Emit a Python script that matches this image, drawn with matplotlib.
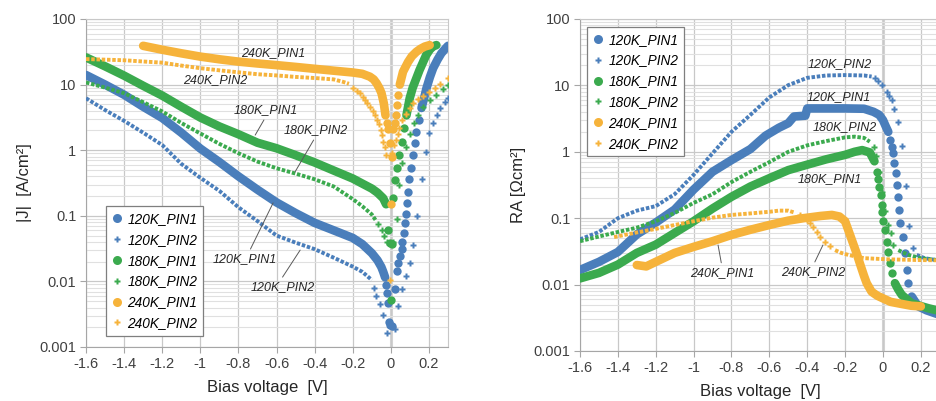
import matplotlib
matplotlib.use("Agg")
import matplotlib.pyplot as plt
from matplotlib.lines import Line2D

plt.rcParams["font.family"] = ["Liberation Sans", "DejaVu Sans"]

BLUE = "#4A7EBB"
GREEN = "#3BAA4E"
ORANGE = "#F6B33B"

# ---------------- |J| vs bias (left panel) ----------------
# each sweep: reverse band (dense points), sparse points around 0 V, forward band
j120_p1_rev = [(-1.6, 14), (-1.5, 10), (-1.4, 7.0), (-1.3, 4.6), (-1.2, 3.1), (-1.1, 1.85),
               (-1.0, 1.06), (-0.9, 0.66), (-0.8, 0.40), (-0.7, 0.25), (-0.6, 0.16),
               (-0.5, 0.11), (-0.4, 0.078), (-0.3, 0.06), (-0.2, 0.046), (-0.15, 0.037),
               (-0.1, 0.027), (-0.07, 0.021), (-0.05, 0.0166), (-0.04, 0.014), (-0.03, 0.0115)]
j120_p1_pts = [(-0.025, 0.0088), (-0.02, 0.0066), (-0.014, 0.0047), (-0.009, 0.0024),
               (-0.002, 0.0022), (0.004, 0.0021), (0.021, 0.0077), (0.03, 0.0145),
               (0.038, 0.019), (0.047, 0.0244), (0.056, 0.031), (0.061, 0.040),
               (0.068, 0.054), (0.075, 0.077), (0.082, 0.105), (0.087, 0.155), (0.09, 0.233),
               (0.096, 0.37), (0.108, 0.53), (0.117, 0.85), (0.126, 1.27), (0.134, 1.9),
               (0.148, 2.9)]
j120_p1_fwd = [(0.161, 4.4), (0.175, 6.3), (0.187, 8.8), (0.205, 13), (0.222, 17.8),
               (0.245, 24), (0.265, 30), (0.285, 35), (0.3, 39)]

j120_p2_rev = [(-1.6, 6.2), (-1.5, 4.1), (-1.4, 2.8), (-1.3, 1.85), (-1.2, 1.2), (-1.1, 0.62),
               (-1.0, 0.38), (-0.9, 0.24), (-0.8, 0.135), (-0.7, 0.083), (-0.6, 0.05),
               (-0.5, 0.039), (-0.4, 0.031), (-0.3, 0.023), (-0.2, 0.0168), (-0.15, 0.014),
               (-0.1, 0.0105)]
j120_p2_pts = [(-0.09, 0.008), (-0.08, 0.006), (-0.057, 0.0045), (-0.04, 0.0031),
               (-0.022, 0.00166), (0.021, 0.0019), (0.038, 0.0042), (0.056, 0.0076),
               (0.078, 0.012), (0.099, 0.019), (0.117, 0.036), (0.138, 0.099), (0.161, 0.37),
               (0.183, 0.95), (0.2, 1.8), (0.222, 2.6), (0.24, 3.4), (0.256, 4.4),
               (0.283, 5.4), (0.3, 6.3)]
j120_p2_fwd = []

j180_p1_rev = [(-1.6, 26), (-1.5, 19), (-1.4, 13.7), (-1.3, 9.6), (-1.2, 6.8), (-1.1, 4.6),
               (-1.0, 3.15), (-0.9, 2.3), (-0.8, 1.75), (-0.7, 1.3), (-0.6, 1.07), (-0.5, 0.84),
               (-0.4, 0.65), (-0.3, 0.49), (-0.2, 0.37), (-0.15, 0.31), (-0.1, 0.26),
               (-0.07, 0.225), (-0.04, 0.185), (-0.025, 0.15)]
j180_p1_pts = [(-0.017, 0.061), (-0.005, 0.039), (0.0, 0.0052), (0.004, 0.037), (0.012, 0.185),
               (0.021, 0.35), (0.03, 0.53), (0.044, 0.85), (0.056, 1.35), (0.068, 2.15)]
j180_p1_fwd = [(0.082, 3.4), (0.099, 6.2), (0.115, 9), (0.134, 12.5), (0.15, 16.5),
               (0.169, 22), (0.185, 28), (0.204, 34), (0.22, 38), (0.239, 40)]

j180_p2_rev = [(-1.6, 10.8), (-1.5, 9.0), (-1.4, 7.4), (-1.3, 5.4), (-1.2, 3.9), (-1.1, 2.6),
               (-1.0, 1.8), (-0.9, 1.25), (-0.8, 0.9), (-0.7, 0.67), (-0.6, 0.53), (-0.5, 0.44),
               (-0.4, 0.36), (-0.3, 0.28), (-0.2, 0.18), (-0.15, 0.14), (-0.1, 0.105),
               (-0.08, 0.086)]
j180_p2_pts = [(-0.065, 0.075), (-0.049, 0.061), (-0.035, 0.05), (-0.022, 0.04), (0.01, 0.04),
               (0.03, 0.09), (0.045, 0.3), (0.061, 0.63), (0.077, 1.13), (0.099, 1.75),
               (0.12, 2.6), (0.143, 3.4), (0.169, 4.6), (0.204, 5.8), (0.239, 6.9),
               (0.274, 8.6), (0.3, 9.9)]
j180_p2_fwd = []

j240_p1_rev = [(-1.3, 39), (-1.2, 34), (-1.1, 30), (-1.0, 26.7), (-0.9, 24.3), (-0.8, 22.4),
               (-0.7, 21), (-0.6, 19.8), (-0.5, 18.6), (-0.4, 17.4), (-0.3, 16.3), (-0.2, 15.3),
               (-0.15, 14.6), (-0.11, 13.2), (-0.09, 12), (-0.075, 10.5), (-0.06, 8.8),
               (-0.049, 7.4), (-0.037, 5.2), (-0.028, 3.4)]
j240_p1_pts = [(-0.022, 2.6), (-0.016, 2.1), (-0.006, 1.3), (0.0, 0.15), (0.007, 0.8),
               (0.012, 2.1), (0.021, 2.6), (0.026, 3.4), (0.03, 4.9), (0.038, 6.9)]
j240_p1_fwd = [(0.047, 10), (0.064, 15.7), (0.09, 22), (0.11, 27), (0.134, 31.6),
               (0.155, 35), (0.178, 38), (0.204, 40)]

j240_p2_rev = [(-1.6, 24.5), (-1.5, 24), (-1.4, 23.5), (-1.3, 22.5), (-1.2, 21.6),
               (-1.1, 19.5), (-1.0, 17.8), (-0.9, 16.5), (-0.8, 15.4), (-0.7, 14.4),
               (-0.6, 13.8), (-0.5, 13.1), (-0.4, 12.6), (-0.3, 12), (-0.25, 11),
               (-0.22, 10.3)]
j240_p2_pts = [(-0.197, 8.8), (-0.18, 8.0), (-0.162, 7.4), (-0.148, 6.5), (-0.136, 5.8),
               (-0.124, 5.2), (-0.11, 4.6), (-0.096, 4.0), (-0.084, 3.4), (-0.072, 2.9),
               (-0.063, 2.5), (-0.054, 2.0), (-0.047, 1.7), (-0.04, 1.35), (-0.031, 1.13),
               (-0.026, 0.85), (-0.002, 0.0105), (0.004, 0.9), (0.015, 1.2), (0.025, 1.45),
               (0.035, 1.75), (0.045, 2.2), (0.06, 2.9), (0.082, 3.6), (0.1, 4.4),
               (0.117, 5.2), (0.14, 6.0), (0.169, 6.6), (0.2, 7.8), (0.23, 9),
               (0.26, 10.2), (0.3, 12.5)]
j240_p2_fwd = []

# ---------------- RA vs bias (right panel) ----------------
ra120_p1_rev = [(-1.6, 0.0166), (-1.5, 0.022), (-1.4, 0.031), (-1.3, 0.057), (-1.2, 0.086),
                (-1.1, 0.135), (-1.0, 0.27), (-0.9, 0.5), (-0.8, 0.75), (-0.7, 1.1),
                (-0.62, 1.75), (-0.55, 2.3), (-0.5, 2.7), (-0.47, 3.4), (-0.41, 3.5),
                (-0.40, 4.5), (-0.3, 4.5), (-0.2, 4.5), (-0.1, 4.45), (-0.05, 4.0),
                (-0.02, 3.6), (0.0, 3.0), (0.015, 2.4), (0.028, 2.0)]
ra120_p1_pts = [(0.037, 1.5), (0.046, 1.19), (0.055, 0.95), (0.06, 0.69), (0.067, 0.48),
                (0.072, 0.32), (0.081, 0.21), (0.086, 0.133), (0.09, 0.084), (0.107, 0.053),
                (0.116, 0.03), (0.125, 0.0166), (0.134, 0.0105)]
ra120_p1_fwd = [(0.152, 0.0066), (0.17, 0.0055), (0.187, 0.0047), (0.23, 0.0041),
                (0.275, 0.0037), (0.3, 0.0035)]

ra120_p2_rev = [(-1.6, 0.048), (-1.5, 0.062), (-1.4, 0.1), (-1.3, 0.13), (-1.2, 0.152),
                (-1.1, 0.23), (-1.0, 0.45), (-0.9, 0.95), (-0.8, 2.0), (-0.7, 3.6),
                (-0.6, 6.6), (-0.5, 10.1), (-0.4, 13), (-0.3, 14.1), (-0.2, 14.3),
                (-0.1, 14.1), (-0.06, 13.6)]
ra120_p2_pts = [(-0.042, 12.8), (-0.025, 11.5), (-0.007, 10.1), (0.02, 8), (0.033, 7),
                (0.046, 6), (0.06, 4.4), (0.081, 2.8), (0.099, 1.22), (0.12, 0.31),
                (0.138, 0.076), (0.16, 0.036)]
ra120_p2_fwd = [(0.178, 0.028), (0.22, 0.025), (0.28, 0.0234), (0.3, 0.023)]

ra180_p1_rev = [(-1.6, 0.0124), (-1.5, 0.015), (-1.4, 0.02), (-1.3, 0.03), (-1.2, 0.04),
                (-1.1, 0.06), (-1.0, 0.09), (-0.9, 0.14), (-0.8, 0.21), (-0.7, 0.3),
                (-0.6, 0.4), (-0.5, 0.53), (-0.4, 0.64), (-0.3, 0.77), (-0.2, 0.9),
                (-0.15, 1.0), (-0.11, 1.06), (-0.07, 0.98), (-0.045, 0.72)]
ra180_p1_pts = [(-0.033, 0.5), (-0.028, 0.39), (-0.019, 0.29), (-0.011, 0.22), (-0.007, 0.16),
                (-0.003, 0.126), (0.002, 0.092), (0.011, 0.066), (0.02, 0.044), (0.028, 0.031),
                (0.037, 0.021), (0.046, 0.0148)]
ra180_p1_fwd = [(0.063, 0.0105), (0.08, 0.0085), (0.099, 0.007), (0.152, 0.0052),
                (0.24, 0.0044), (0.3, 0.004)]

ra180_p2_rev = [(-1.6, 0.045), (-1.5, 0.053), (-1.4, 0.062), (-1.3, 0.072), (-1.2, 0.09),
                (-1.1, 0.12), (-1.0, 0.17), (-0.9, 0.23), (-0.8, 0.35), (-0.7, 0.5),
                (-0.6, 0.7), (-0.5, 1.0), (-0.4, 1.25), (-0.3, 1.45), (-0.2, 1.65),
                (-0.15, 1.69), (-0.1, 1.62), (-0.07, 1.42)]
ra180_p2_pts = [(-0.05, 1.2), (-0.035, 0.85), (-0.02, 0.5), (-0.005, 0.25), (0.01, 0.13),
                (0.025, 0.08), (0.043, 0.059), (0.055, 0.04)]
ra180_p2_fwd = [(0.081, 0.033), (0.134, 0.028), (0.2, 0.025), (0.3, 0.0232)]

ra240_p1_rev = [(-1.3, 0.0197), (-1.25, 0.0188), (-1.2, 0.022), (-1.1, 0.03), (-1.0, 0.037),
                (-0.9, 0.045), (-0.8, 0.056), (-0.7, 0.067), (-0.6, 0.079), (-0.5, 0.092),
                (-0.42, 0.1), (-0.33, 0.108), (-0.27, 0.112), (-0.23, 0.106), (-0.2, 0.09),
                (-0.17, 0.052), (-0.14, 0.03), (-0.12, 0.02), (-0.1, 0.0135), (-0.086, 0.0105),
                (-0.06, 0.0078), (-0.03, 0.0068), (0.0, 0.0062), (0.04, 0.0055), (0.1, 0.0051),
                (0.15, 0.0048), (0.2, 0.0047)]
ra240_p1_pts = []
ra240_p1_fwd = []

ra240_p2_rev = [(-1.42, 0.052), (-1.3, 0.061), (-1.2, 0.069), (-1.1, 0.079), (-1.0, 0.09),
                (-0.9, 0.102), (-0.8, 0.112), (-0.7, 0.118), (-0.6, 0.125), (-0.55, 0.13),
                (-0.5, 0.13), (-0.465, 0.121)]
ra240_p2_pts = [(-0.44, 0.112), (-0.42, 0.105), (-0.4, 0.094), (-0.385, 0.084), (-0.37, 0.074),
                (-0.35, 0.063), (-0.33, 0.053), (-0.306, 0.044), (-0.28, 0.038)]
ra240_p2_fwd = [(-0.253, 0.033), (-0.22, 0.03), (-0.183, 0.028), (-0.1, 0.025), (0.03, 0.024),
                (0.2, 0.0234), (0.3, 0.0232)]

series_names = ["120K_PIN1", "120K_PIN2", "180K_PIN1", "180K_PIN2", "240K_PIN1", "240K_PIN2"]
series_colors = [BLUE, BLUE, GREEN, GREEN, ORANGE, ORANGE]

j_series = [
    (j120_p1_rev, j120_p1_pts, j120_p1_fwd), (j120_p2_rev, j120_p2_pts, j120_p2_fwd),
    (j180_p1_rev, j180_p1_pts, j180_p1_fwd), (j180_p2_rev, j180_p2_pts, j180_p2_fwd),
    (j240_p1_rev, j240_p1_pts, j240_p1_fwd), (j240_p2_rev, j240_p2_pts, j240_p2_fwd),
]
ra_series = [
    (ra120_p1_rev, ra120_p1_pts, ra120_p1_fwd), (ra120_p2_rev, ra120_p2_pts, ra120_p2_fwd),
    (ra180_p1_rev, ra180_p1_pts, ra180_p1_fwd), (ra180_p2_rev, ra180_p2_pts, ra180_p2_fwd),
    (ra240_p1_rev, ra240_p1_pts, ra240_p1_fwd), (ra240_p2_rev, ra240_p2_pts, ra240_p2_fwd),
]

xticks = [-1.6, -1.4, -1.2, -1.0, -0.8, -0.6, -0.4, -0.2, 0.0, 0.2]
yticks = [0.001, 0.01, 0.1, 1, 10, 100]
ytick_labels = ["0.001", "0.01", "0.1", "1", "10", "100"]


def draw_series(ax, segs, color, name):
    rev, pts, fwd = segs
    pin1 = name.endswith("PIN1")
    for seg in (rev, fwd):
        if not seg:
            continue
        v, y = zip(*seg)
        if pin1:
            ax.plot(v, y, color=color, lw=6.2, solid_capstyle="round",
                    solid_joinstyle="round", zorder=3)
        else:
            ax.plot(v, y, color=color, lw=2.8, linestyle=(0, (0.9, 0.45)),
                    dash_capstyle="butt", zorder=3)
    if pts:
        v, y = zip(*pts)
        if pin1:
            ax.plot(v, y, ls="none", marker="o", ms=6.0, color=color, mec="none", zorder=3)
        else:
            ax.plot(v, y, ls="none", marker="P", ms=3.8, color=color, mec="none", zorder=3)


def style_axes(ax, ylabel):
    ax.set_yscale("log")
    ax.set_ylim(0.001, 100)
    ax.set_xlim(-1.6, 0.3)
    ax.set_xticks(xticks, ["{:g}".format(t) for t in xticks])
    ax.set_yticks(yticks, ytick_labels)
    ax.minorticks_on()
    ax.set_xticks([], minor=True)
    ax.tick_params(which="major", length=4, color="#A6A6A6", labelsize=10.5,
                   labelcolor="#404040", pad=3)
    ax.tick_params(which="minor", length=0)
    ax.yaxis.set_minor_formatter(plt.NullFormatter())
    ax.grid(True, which="major", color="#C8C8C8", lw=0.9, zorder=0)
    ax.grid(True, which="minor", axis="y", color="#E0E0E0", lw=0.8, zorder=0)
    ax.axvline(0, color="#D4D4D4", lw=2.2, zorder=0.5)
    for side in ["left", "bottom"]:
        ax.spines[side].set_color("#A6A6A6")
    for side in ["top", "right"]:
        ax.spines[side].set_color("#C8C8C8")
    ax.set_xlabel("Bias voltage  [V]", fontsize=12, color="#262626", labelpad=7)
    ax.set_ylabel(ylabel, fontsize=12, color="#262626", labelpad=5)


def add_legend(ax, loc, anchor):
    handles = []
    for name, color in zip(series_names, series_colors):
        if name.endswith("PIN1"):
            h = Line2D([], [], ls="none", marker="o", ms=6.5, color=color, mec="none")
        else:
            h = Line2D([], [], ls="none", marker="P", ms=4.5, color=color, mec="none")
        handles.append(h)
    leg = ax.legend(handles, series_names, loc=loc, bbox_to_anchor=anchor,
                    borderaxespad=0, fancybox=False, framealpha=1, edgecolor="#7F7F7F",
                    prop={"style": "italic", "size": 9.8}, labelspacing=0.5,
                    handlelength=0.8, handletextpad=0.35, borderpad=0.42)
    leg.get_frame().set_linewidth(0.9)
    leg.set_zorder(5)


def label(ax, text, xy, xytext=None, relpos=(0.5, 0.5)):
    if xytext is None:
        ax.text(xy[0], xy[1], text, fontsize=9, style="italic", color="#262626",
                ha="center", va="center", zorder=6)
    else:
        ax.annotate(text, xy=xy, xytext=xytext, fontsize=9, style="italic",
                    color="#262626", ha="center", va="center", zorder=6,
                    arrowprops=dict(arrowstyle="-", color="#595959", lw=0.7,
                                    relpos=relpos, shrinkA=1, shrinkB=0))


fig = plt.figure(figsize=(9.36, 4.01), dpi=100)
ax1 = fig.add_axes([86 / 936, 1 - 347 / 401, 362 / 936, 328 / 401])
ax2 = fig.add_axes([580 / 936, 1 - 351 / 401, 359.8 / 936, 332 / 401])

for segs, color, name in zip(j_series, series_colors, series_names):
    draw_series(ax1, segs, color, name)
for segs, color, name in zip(ra_series, series_colors, series_names):
    draw_series(ax2, segs, color, name)

style_axes(ax1, "|J|  [A/cm²]")
style_axes(ax2, "RA [Ωcm²]")

add_legend(ax1, "lower left", (0.055, 0.034))
add_legend(ax2, "upper left", (0.019, 0.976))

# left panel labels
label(ax1, "240K_PIN1", (-0.62, 30))
label(ax1, "240K_PIN2", (-0.92, 11.7))
label(ax1, "180K_PIN1", (-0.712, 1.7), (-0.654, 4.1), (0.5, 0.0))
label(ax1, "180K_PIN2", (-0.503, 0.466), (-0.393, 2.03), (0.5, 0.0))
label(ax1, "120K_PIN1", (-0.618, 0.157), (-0.764, 0.0219), (0.55, 1.0))
label(ax1, "120K_PIN2", (-0.476, 0.030), (-0.565, 0.0082), (0.45, 1.0))

# right panel labels
label(ax2, "120K_PIN2", (-0.227, 21))
label(ax2, "120K_PIN1", (-0.232, 6.7))
label(ax2, "180K_PIN2", (-0.2, 2.36))
label(ax2, "180K_PIN1", (-0.28, 0.39))
label(ax2, "240K_PIN1", (-0.871, 0.0395), (-0.85, 0.015), (0.5, 1.0))
label(ax2, "240K_PIN2", (-0.317, 0.0395), (-0.37, 0.0155), (0.5, 1.0))

fig.savefig("out.png", dpi=100)
